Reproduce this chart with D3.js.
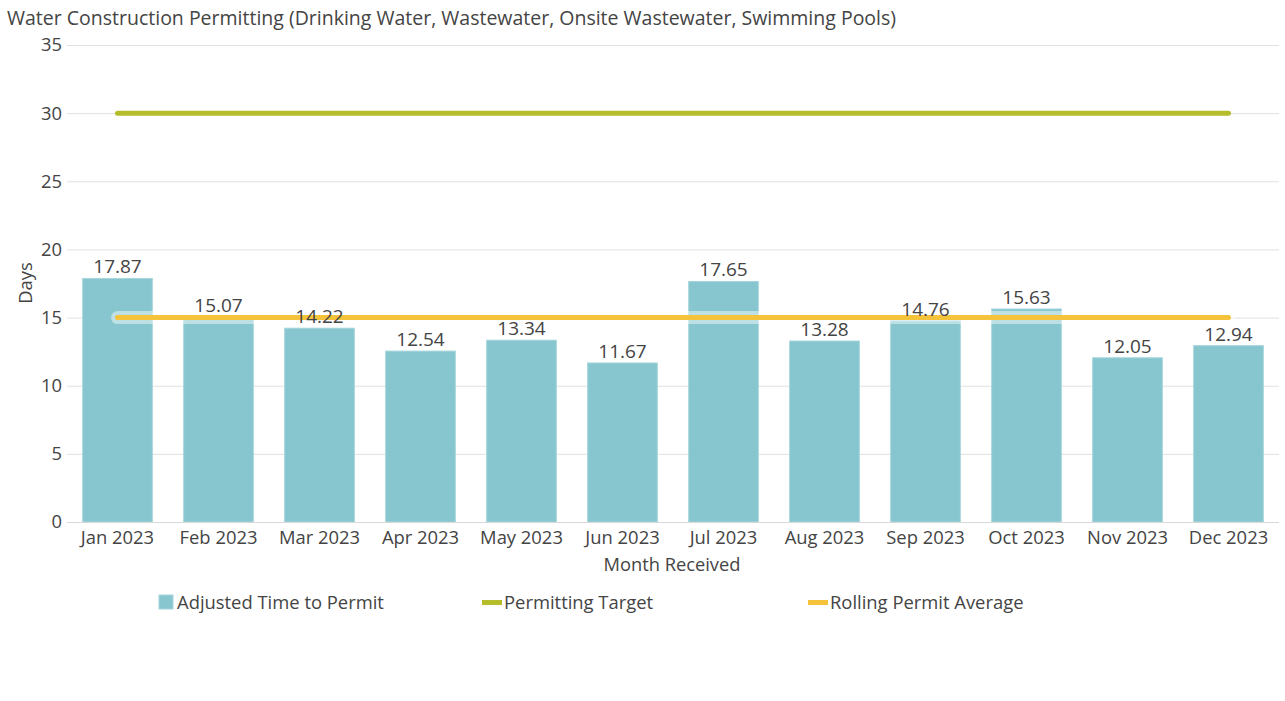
<!DOCTYPE html>
<html><head><meta charset="utf-8">
<script src="https://cdn.jsdelivr.net/npm/d3@7"></script>
<style>body{margin:0;background:#fff;font-family:"Open Sans",sans-serif;}</style>
</head><body>
<svg id="c" width="1285" height="701"></svg>
<script>
const months = ["Jan 2023","Feb 2023","Mar 2023","Apr 2023","May 2023","Jun 2023","Jul 2023","Aug 2023","Sep 2023","Oct 2023","Nov 2023","Dec 2023"];
const adjustedTime = [17.87,15.07,14.22,12.54,13.34,11.67,17.65,13.28,14.76,15.63,12.05,12.94];
const permittingTarget = [30,30,30,30,30,30,30,30,30,30,30,30];
const rollingAverage = [15,15,15,15,15,15,15,15,15,15,15,15];
const yTicks = [0,5,10,15,20,25,30,35];

const svg = d3.select("#c");
const txt = "#444";
const x = d3.scaleBand().domain(months).range([67,1279]).paddingInner(0.31).paddingOuter(0.155);
const y = d3.scaleLinear().domain([0,35]).range([522,45]);

svg.append("text").attr("x",7).attr("y",25).attr("font-size",19.5).attr("fill",txt)
  .text("Water Construction Permitting (Drinking Water, Wastewater, Onsite Wastewater, Swimming Pools)");

// grid + y axis
const ya = svg.append("g").attr("transform","translate(67,0)")
  .call(d3.axisLeft(y).tickValues(yTicks).tickSize(-1212).tickPadding(5));
ya.select(".domain").remove();
ya.selectAll(".tick line").attr("stroke","#e0e0e0").attr("stroke-width",1);
ya.selectAll(".tick text").attr("font-size",18.4).attr("fill",txt).attr("font-family","Open Sans");

svg.append("text").attr("transform","translate(32,283) rotate(-90)").attr("text-anchor","middle")
  .attr("font-size",18.4).attr("fill",txt).text("Days");

// bars
svg.append("g").selectAll("rect").data(adjustedTime).join("rect")
  .attr("x",(d,i)=>x(months[i])).attr("width",x.bandwidth())
  .attr("y",d=>y(d)).attr("height",d=>y(0)-y(d))
  .attr("fill","#87c6ce").attr("stroke","#a6d6dc").attr("stroke-width",1);

// x axis
const xa = svg.append("g").attr("transform","translate(0,522)").call(d3.axisBottom(x).tickSize(0).tickPadding(9));
xa.select(".domain").attr("stroke","#d8d8d8").attr("d","M67,0.5H1279");
xa.selectAll(".tick text").attr("font-size",18.4).attr("fill",txt).attr("font-family","Open Sans");
svg.append("text").attr("x",672).attr("y",571).attr("text-anchor","middle").attr("font-size",18.3).attr("fill",txt).text("Month Received");

const cx = (d,i)=>x(months[i])+x.bandwidth()/2;
const line = d3.line().x(cx).y(d=>y(d));

// target line
svg.append("path").datum(permittingTarget).attr("d",line).attr("fill","none")
  .attr("stroke","#b5bd2a").attr("stroke-width",5).attr("stroke-linecap","round");
// rolling average with halo
svg.append("path").datum(rollingAverage).attr("d",line).attr("fill","none")
  .attr("stroke","#ffffff").attr("stroke-opacity",0.45).attr("stroke-width",13).attr("stroke-linecap","round");
svg.append("path").datum(rollingAverage).attr("d",line).attr("fill","none")
  .attr("stroke","#f5c33b").attr("stroke-width",5).attr("stroke-linecap","round");

// labels
svg.append("g").selectAll("text").data(adjustedTime).join("text")
  .attr("x",cx).attr("y",d=>y(d)-5).attr("text-anchor","middle")
  .attr("font-size",19).attr("fill",txt).text(d=>d.toFixed(2));

// legend
const lg = svg.append("g").attr("font-size",18.4).attr("fill",txt);
lg.append("rect").attr("x",159).attr("y",595).attr("width",14).attr("height",14).attr("fill","#87c6ce").attr("stroke","#a6d6dc");
lg.append("text").attr("x",177).attr("y",609).attr("fill",txt).text("Adjusted Time to Permit");
lg.append("rect").attr("x",482).attr("y",600).attr("width",20).attr("height",5).attr("fill","#b5bd2a");
lg.append("text").attr("x",504).attr("y",609).attr("fill",txt).text("Permitting Target");
lg.append("rect").attr("x",808).attr("y",600).attr("width",20).attr("height",5).attr("fill","#f5c33b");
lg.append("text").attr("x",830).attr("y",609).attr("fill",txt).text("Rolling Permit Average");
</script>
</body></html>
